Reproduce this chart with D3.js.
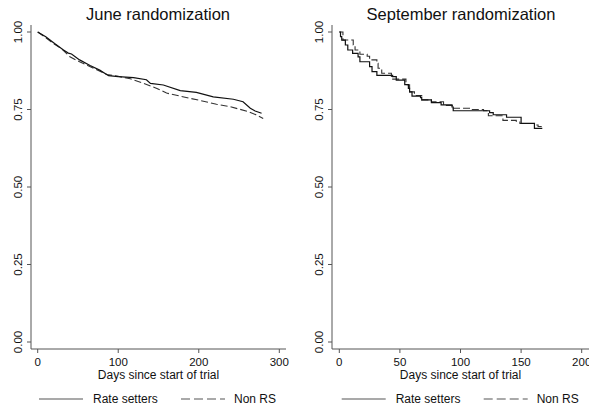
<!DOCTYPE html>
<html><head><meta charset="utf-8">
<script src="https://cdn.jsdelivr.net/npm/d3@7"></script>
<style>body{margin:0;background:#fff}svg{display:block}text{font-family:"Liberation Sans",Arial,sans-serif;fill:#111}</style>
</head><body>
<svg id="c" width="589" height="413"></svg>
<script>
const panelTitles = ["June randomization", "September randomization"];
const seriesNames = ["Rate setters", "Non RS"];
const yTicks = [0, 0.25, 0.5, 0.75, 1.0];
const xTicksJune = [0, 100, 200, 300];
const xTicksSept = [0, 50, 100, 150, 200];
const xLabel = "Days since start of trial";

// June randomization (day, survival)
const juneRS = [[0,1.0],[10,0.985],[21,0.963],[32,0.942],[38,0.932],[42,0.929],[52,0.910],[65,0.892],[77,0.877],[88,0.859],[100,0.856],[119,0.853],[135,0.846],[140,0.834],[156,0.829],[177,0.811],[197,0.805],[218,0.791],[243,0.783],[255,0.775],[264,0.754],[270,0.745],[278,0.738]];
const juneNon = [[0,1.0],[10,0.982],[20,0.962],[30,0.945],[40,0.920],[52,0.904],[70,0.882],[86,0.863],[100,0.857],[115,0.849],[130,0.836],[148,0.818],[160,0.803],[189,0.786],[202,0.779],[222,0.767],[239,0.759],[262,0.743],[271,0.733],[280,0.721]];
// September randomization (day, survival) - step functions
const septRS = [[0,1.0],[1,0.985],[2,0.974],[5,0.958],[7,0.942],[11,0.931],[15.5,0.920],[17,0.904],[25,0.888],[27,0.872],[31,0.860],[44,0.856],[47,0.845],[54,0.830],[57,0.818],[58,0.807],[60,0.793],[67,0.788],[68,0.781],[76,0.772],[84,0.765],[93,0.758],[94,0.746],[124,0.740],[127,0.733],[138,0.725],[150,0.705],[161,0.689],[167,0.687]];
const septNon = [[0,1.0],[3,0.974],[11.5,0.958],[13,0.942],[17,0.928],[23,0.922],[25,0.910],[31,0.899],[32,0.883],[35,0.867],[43,0.848],[55,0.830],[58,0.807],[62,0.795],[68,0.781],[76,0.775],[86,0.763],[94,0.754],[108,0.750],[119,0.746],[123,0.730],[135,0.715],[146,0.712],[149,0.705],[161,0.700],[164,0.695],[167,0.695]];

const svg = d3.select("#c");
const axisColor = "#555";

function panel(cfg) {
  const g = svg.append("g");
  const x = d3.scaleLinear().domain(cfg.xDomain).range(cfg.xRange);
  const y = d3.scaleLinear().domain([0, 1]).range([342, 32]);
  g.append("text").attr("x", cfg.titleX).attr("y", 20).attr("text-anchor", "middle")
    .style("font-size", "16.5px").text(cfg.title);
  g.append("line").attr("x1", cfg.axisX).attr("x2", cfg.axisX).attr("y1", 25).attr("y2", 349)
    .attr("stroke", axisColor).attr("stroke-width", 1);
  yTicks.forEach(t => {
    g.append("line").attr("x1", cfg.axisX - 4).attr("x2", cfg.axisX).attr("y1", y(t)).attr("y2", y(t))
      .attr("stroke", axisColor);
    g.append("text").attr("transform", `translate(${cfg.axisX - 9},${y(t)}) rotate(-90)`)
      .attr("text-anchor", "middle").style("font-size", "11.5px").text(d3.format(".2f")(t));
  });
  g.append("line").attr("x1", cfg.axisX).attr("x2", cfg.xAxisEnd).attr("y1", 349).attr("y2", 349)
    .attr("stroke", axisColor);
  cfg.xTicks.forEach(t => {
    g.append("line").attr("x1", x(t)).attr("x2", x(t)).attr("y1", 349).attr("y2", 353).attr("stroke", axisColor);
    g.append("text").attr("x", x(t)).attr("y", 365.5).attr("text-anchor", "middle")
      .style("font-size", "11.5px").text(t);
  });
  g.append("text").attr("x", (x(cfg.xTicks[0]) + x(cfg.xTicks[cfg.xTicks.length-1]))/2).attr("y", 379)
    .attr("text-anchor", "middle").style("font-size", "12px").text(xLabel);
  const line = d3.line().x(d => x(d[0])).y(d => y(d[1])).curve(cfg.curve);
  g.append("path").datum(cfg.non).attr("d", line).attr("fill", "none")
    .attr("stroke", "#333").attr("stroke-width", 1.1).attr("stroke-dasharray", "7,3");
  g.append("path").datum(cfg.rs).attr("d", line).attr("fill", "none")
    .attr("stroke", "#111").attr("stroke-width", 1.2);
  const ly = 399;
  g.append("line").attr("x1", cfg.legX).attr("x2", cfg.legX + 44).attr("y1", ly).attr("y2", ly)
    .attr("stroke", "#555").attr("stroke-width", 1.2);
  g.append("text").attr("x", cfg.legX + 54).attr("y", ly + 4).style("font-size", "12px").text(seriesNames[0]);
  g.append("line").attr("x1", cfg.legX + 142).attr("x2", cfg.legX + 186).attr("y1", ly).attr("y2", ly)
    .attr("stroke", "#555").attr("stroke-width", 1.2).attr("stroke-dasharray", "9,4");
  g.append("text").attr("x", cfg.legX + 195).attr("y", ly + 4).style("font-size", "12px").text(seriesNames[1]);
}

panel({title: panelTitles[0], titleX: 158, axisX: 31, xAxisEnd: 286,
  xDomain: [0, 300], xRange: [37.7, 279.3], xTicks: xTicksJune,
  rs: juneRS, non: juneNon, curve: d3.curveLinear, legX: 39});
panel({title: panelTitles[1], titleX: 461, axisX: 332, xAxisEnd: 589,
  xDomain: [0, 200], xRange: [339.3, 581.7], xTicks: xTicksSept,
  rs: septRS, non: septNon, curve: d3.curveStepAfter, legX: 341.7});
</script>
</body></html>
